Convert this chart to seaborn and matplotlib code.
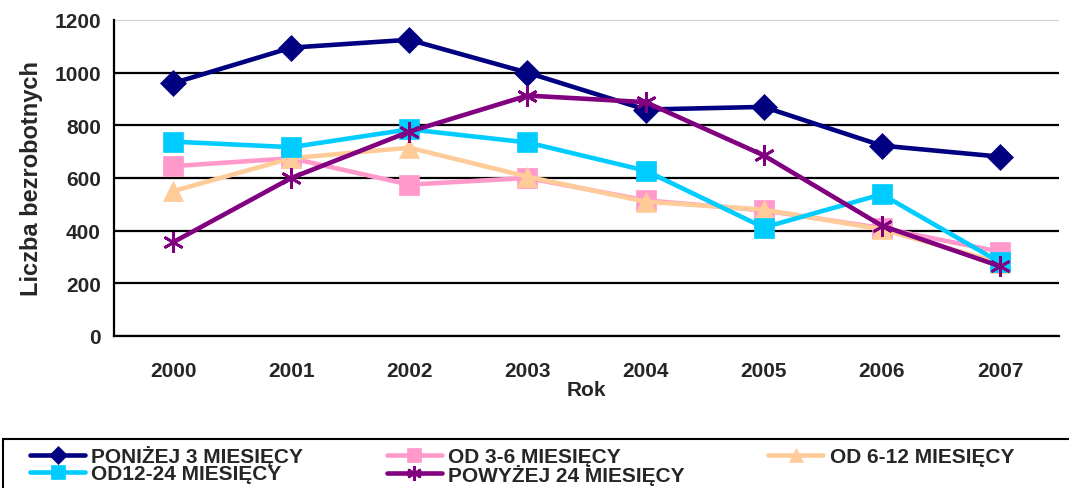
import pandas as pd
import seaborn as sns
from matplotlib import pyplot as plt
from matplotlib.patches import Rectangle

years = ['2000', '2001', '2002', '2003', '2004', '2005', '2006', '2007']
ponizej_3 = [960, 1095, 1125, 1000, 860, 870, 723, 681]
od_3_6 = [645, 675, 575, 600, 515, 477, 410, 320]
od_6_12 = [550, 675, 715, 605, 510, 480, 405, 278]
od_12_24 = [738, 717, 785, 735, 628, 412, 538, 280]
powyzej_24 = [356, 600, 776, 913, 888, 686, 419, 265]

series_names = ['PONIŻEJ 3 MIESIĘCY', 'OD 3-6 MIESIĘCY', 'OD 6-12 MIESIĘCY',
                'OD12-24 MIESIĘCY', 'POWYŻEJ 24 MIESIĘCY']
series_values = [ponizej_3, od_3_6, od_6_12, od_12_24, powyzej_24]
colors = ['#000080', '#FF99CC', '#FFCC99', '#00CCFF', '#800080']
markers = ['D', 's', '^', 's', (6, 2, 0)]
msizes = [13, 15, 15, 15, 15]

sns.set_style('white')
plt.rcParams['font.family'] = ['Liberation Sans', 'DejaVu Sans']
plt.rcParams['font.weight'] = 'bold'

fig = plt.figure(figsize=(10.69, 4.89), dpi=100)
ax = fig.add_axes([114 / 1069, 1 - 337 / 489, (1059 - 114) / 1069, (337 - 21) / 489])

pos = list(range(len(years)))
handles = []
for name, vals, c, m, ms in zip(series_names, series_values, colors, markers, msizes):
    df = pd.DataFrame({'pos': pos, 'val': vals})
    sns.lineplot(data=df, x='pos', y='val', ax=ax, color=c, lw=3.3, marker=m,
                 markersize=ms, markeredgecolor=c, markerfacecolor=c,
                 markeredgewidth=2 if m == (6, 2, 0) else 0.5)
    handles.append(ax.get_lines()[-1])

ax.set_xlim(-0.5, 7.5)
ax.set_ylim(0, 1200)
ax.set_yticks(range(0, 1201, 200))
ax.set_xticks(pos)
ax.set_xticklabels(years)
ax.set_xticks([p + 0.5 for p in range(-1, 8)], minor=True)
ax.tick_params(axis='x', which='major', length=0, pad=18, labelsize=15)
ax.tick_params(axis='x', which='minor', length=6, width=1.5, direction='out', color='black')
ax.tick_params(axis='y', length=6, width=1.5, direction='out', color='black', labelsize=15)
for lab in ax.get_xticklabels() + ax.get_yticklabels():
    lab.set_fontweight('bold')

ax.grid(axis='y', color='black', lw=1.6)
for gl, v in zip(ax.get_ygridlines(), range(0, 1201, 200)):
    if v == 1200:
        gl.set_color('#c8c8c8')
        gl.set_linewidth(1.2)
ax.set_axisbelow(True)

for s in ['top', 'right']:
    ax.spines[s].set_visible(False)
for s in ['left', 'bottom']:
    ax.spines[s].set_color('black')
    ax.spines[s].set_linewidth(1.6)

ax.set_ylabel('Liczba bezrobotnych', fontsize=17, fontweight='bold', labelpad=8)
ax.set_xlabel('Rok', fontsize=15, fontweight='bold', labelpad=0)

order = [0, 3, 1, 4, 2]
leg = fig.legend([handles[i] for i in order], [series_names[i] for i in order],
                 loc='upper left', bbox_to_anchor=(30 / 1069, 1 - 446 / 489),
                 ncol=3, fontsize=15, frameon=False, markerscale=0.7,
                 handlelength=2.65, handletextpad=0.3, columnspacing=4.0,
                 labelspacing=-0.1, borderpad=0, borderaxespad=0)
for t in leg.get_texts():
    t.set_fontweight('bold')

# legend frame running off the right and bottom edges, as in the reference
fig.patches.append(Rectangle((3 / 1069, -0.05), 1.05, 1 - 440 / 489 + 0.05,
                             transform=fig.transFigure, fill=False,
                             edgecolor='black', lw=1.5))

fig.savefig('out.png', dpi=100)
